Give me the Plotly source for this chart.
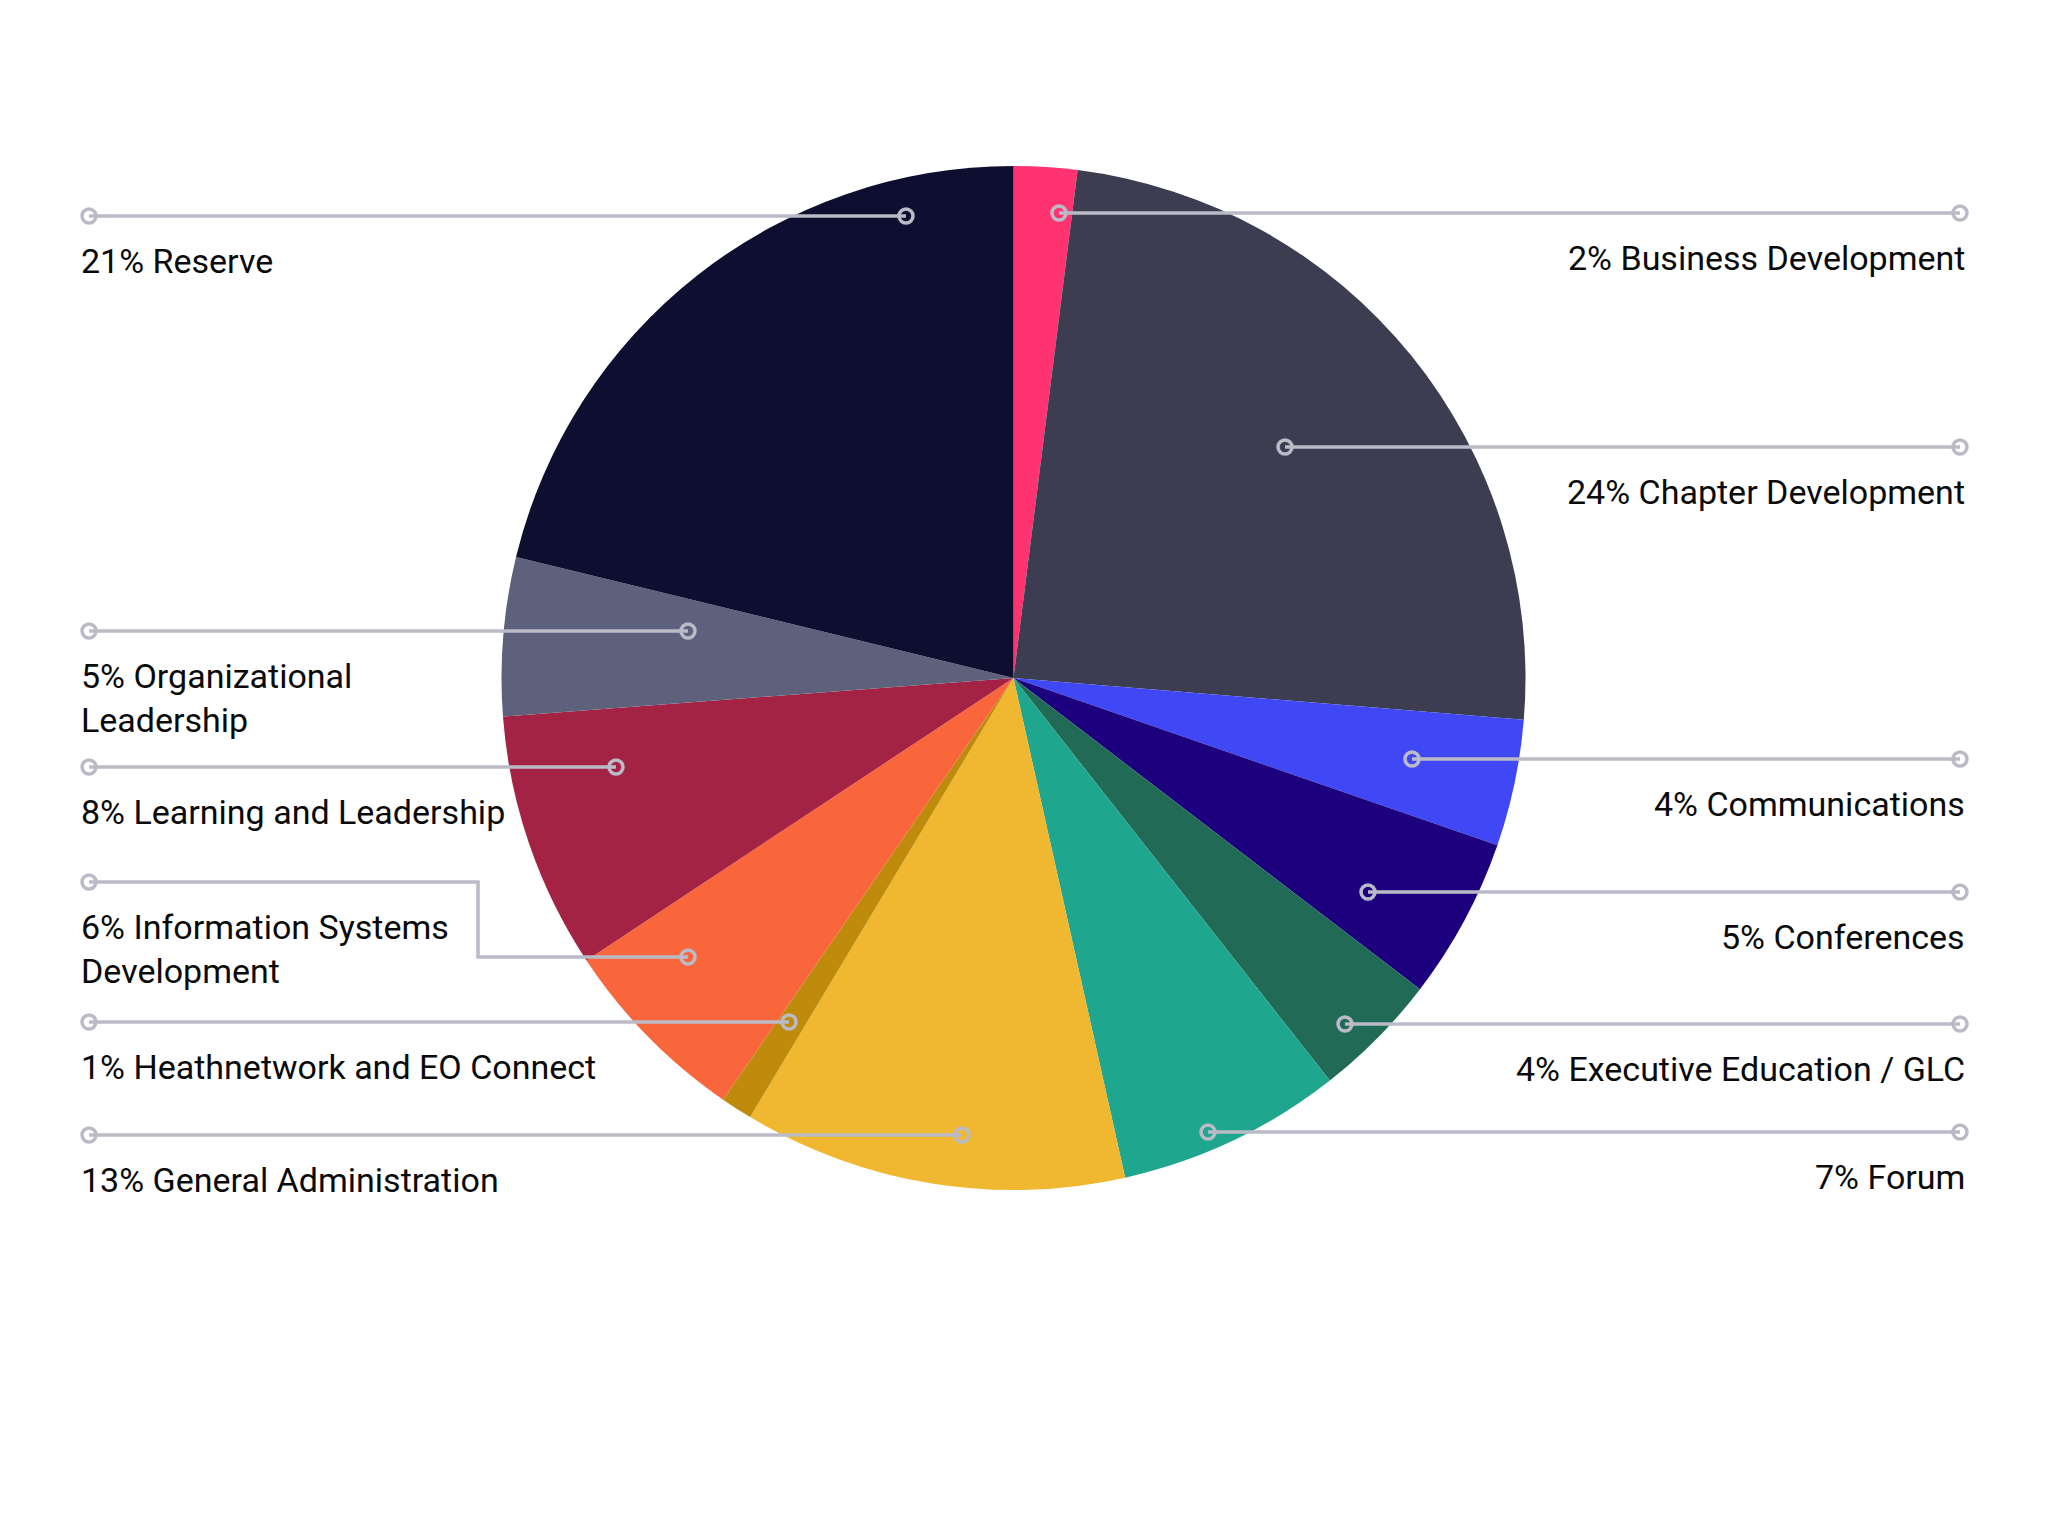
import plotly.graph_objects as go

# ---- data ----
categories = [
    "Business Development", "Chapter Development", "Communications", "Conferences",
    "Executive Education / GLC", "Forum", "General Administration",
    "Heathnetwork and EO Connect", "Information Systems Development",
    "Learning and Leadership", "Organizational Leadership", "Reserve",
]
# slice sizes as drawn in the picture (labels show rounded figures)
values = [2.0, 24.3, 4.0, 5.1, 4.0, 7.1, 12.1, 1.0, 6.1, 8.1, 5.0, 21.2]
label_texts = [
    "2% Business Development", "24% Chapter Development", "4% Communications",
    "5% Conferences", "4% Executive Education / GLC", "7% Forum",
    "13% General Administration", "1% Heathnetwork and EO Connect",
    "6% Information Systems<br>Development", "8% Learning and Leadership",
    "5% Organizational<br>Leadership", "21% Reserve",
]
colors = ["#FF3370", "#3C3D50", "#3F48F4", "#1C007E", "#216A55", "#1EA68F",
          "#EFB830", "#BF8B0C", "#FA663C", "#A42244", "#5E617C", "#0E0E30"]

# ---- leader-line layout (pixel positions on the 2048x1536 page) ----
sides = ["R", "R", "R", "R", "R", "R", "L", "L", "L", "L", "L", "L"]
line_y = [213, 447, 759, 892, 1024, 1132, 1135, 1022, 882, 767, 631, 216]
dot_x = [1059, 1285, 1412, 1368, 1345, 1208, 962, 789, 688, 616, 688, 906]
elbow = {8: (478, 957)}  # Information Systems leader has a step

W, H = 2048, 1536
OFF = 8  # page body margin
LEFT_END, RIGHT_END = 89, 1960
LINE_COL = "#BBBBC8"
FONT = "Roboto"
FS = 34


def X(v):
    return v - OFF


def Y(v):
    return v - OFF


cx, cy, r = X(1013.5), Y(678), 512

fig = go.Figure()
fig.add_trace(go.Pie(
    labels=categories, values=values, sort=False, direction="clockwise",
    rotation=0, marker=dict(colors=colors, line=dict(width=0)),
    textinfo="none", hoverinfo="label+percent", showlegend=False,
    domain=dict(x=[(cx - r) / W, (cx + r) / W], y=[1 - (cy + r) / H, 1 - (cy - r) / H]),
))
fig.add_trace(go.Scatter(x=[0, W], y=[0, H], mode="markers",
                         marker=dict(opacity=0), hoverinfo="skip", showlegend=False))

shapes = []
annotations = []
dr = 7
for i, (side, ly, dx, txt) in enumerate(zip(sides, line_y, dot_x, label_texts)):
    end_x = LEFT_END if side == "L" else RIGHT_END
    if i in elbow:
        ex, ey = elbow[i]
        path = f"M{X(end_x)},{Y(ly)} L{X(ex)},{Y(ly)} L{X(ex)},{Y(ey)} L{X(dx)},{Y(ey)}"
        dot_y = ey
    else:
        path = f"M{X(end_x)},{Y(ly)} L{X(dx)},{Y(ly)}"
        dot_y = ly
    shapes.append(dict(type="path", path=path, xref="x", yref="y",
                       line=dict(color=LINE_COL, width=3.5), layer="above"))
    for (px, py) in [(end_x, ly), (dx, dot_y)]:
        shapes.append(dict(type="circle", xref="x", yref="y",
                           x0=X(px) - dr, x1=X(px) + dr, y0=Y(py) - dr, y1=Y(py) + dr,
                           line=dict(color=LINE_COL, width=3.5),
                           fillcolor="rgba(0,0,0,0)", layer="above"))
    nlines = txt.count("<br>") + 1
    ty = ly + 45 + (nlines - 1) * FS * 1.3 / 2
    annotations.append(dict(
        x=X(79 if side == "L" else 1967), y=Y(ty), xref="x", yref="y",
        text=txt, showarrow=False,
        xanchor=("left" if side == "L" else "right"), yanchor="middle",
        align=("left" if side == "L" else "right"),
        font=dict(family=FONT, size=FS, color="#0A0A0A"),
    ))

fig.update_layout(
    width=W, height=H, margin=dict(l=0, r=0, t=0, b=0),
    paper_bgcolor="white", plot_bgcolor="white",
    xaxis=dict(range=[0, W], visible=False, fixedrange=True),
    yaxis=dict(range=[H, 0], visible=False, fixedrange=True),
    shapes=shapes, annotations=annotations, showlegend=False,
)
fig.write_html("out.html")
